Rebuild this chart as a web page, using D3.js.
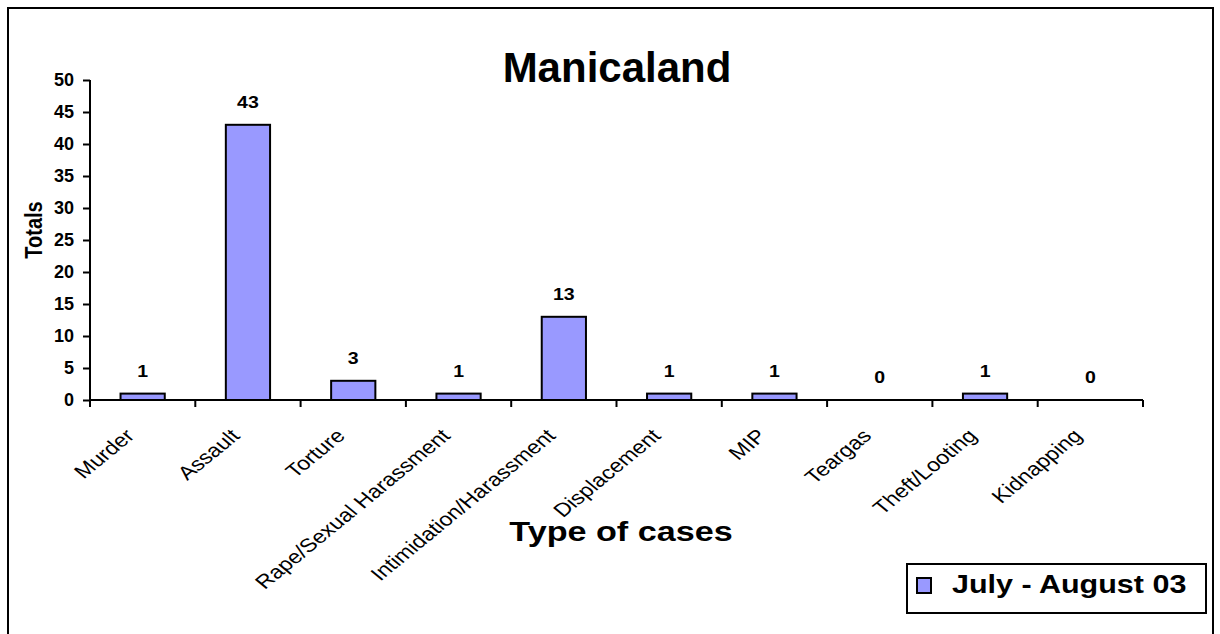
<!DOCTYPE html>
<html><head><meta charset="utf-8">
<script src="https://cdn.jsdelivr.net/npm/d3@7"></script>
<style>body{margin:0;background:#fff;} text{font-family:"Liberation Sans",Arial,sans-serif;}</style>
</head><body>
<svg id="c" width="1220" height="634"></svg>
<script>
const categories = ["Murder","Assault","Torture","Rape/Sexual Harassment","Intimidation/Harassment","Displacement","MIP","Teargas","Theft/Looting","Kidnapping"];
const values = [1,43,3,1,13,1,1,0,1,0];
const yTicks = [0,5,10,15,20,25,30,35,40,45,50];
const seriesName = "July - August 03";
const title = "Manicaland";
const xTitle = "Type of cases";
const yTitle = "Totals";

const SX = 1.22; // horizontal stretch seen in the reference text
const svg = d3.select("#c");
svg.append("rect").attr("x",8).attr("y",8).attr("width",1205).attr("height",640)
  .attr("fill","none").attr("stroke","#000").attr("stroke-width",2);

const pL=90,pR=1143,pT=80,pB=400;
const x = d3.scaleBand().domain(categories).range([pL,pR]).paddingInner(0.58).paddingOuter(0.29);
const y = d3.scaleLinear().domain([0,50]).range([pB,pT]);

svg.append("text").attr("x",617).attr("y",82).attr("text-anchor","middle")
  .attr("font-size",42).attr("font-weight","bold").text(title);

// bars
svg.selectAll("rect.bar").data(values).join("rect").attr("class","bar")
  .attr("x",(d,i)=>x(categories[i])).attr("width",x.bandwidth())
  .attr("y",d=>y(d)).attr("height",d=>pB-y(d))
  .attr("fill","#9999ff").attr("stroke","#000").attr("stroke-width",2);

// value labels
svg.selectAll("text.val").data(values).join("text").attr("class","val")
  .attr("transform",(d,i)=>`translate(${x(categories[i])+x.bandwidth()/2},${y(d)-17}) scale(${SX},1)`)
  .attr("text-anchor","middle").attr("font-size",16).attr("font-weight","bold").text(d=>d);

// y axis
const ya = svg.append("g").attr("transform",`translate(${pL},0)`)
  .call(d3.axisLeft(y).tickValues(yTicks).tickSize(7).tickPadding(9));
ya.select(".domain").attr("stroke","#000").attr("stroke-width",2).attr("d",`M0,${pT}V${pB}`);
ya.selectAll(".tick line").attr("stroke","#000").attr("stroke-width",2);
ya.selectAll(".tick text").attr("font-size",18).attr("font-weight","bold").attr("fill","#000")
  .attr("font-family","Liberation Sans, Arial, sans-serif");

// x axis
const bounds = d3.range(categories.length+1).map(i=>pL+i*(pR-pL)/categories.length);
const xg = svg.append("g");
xg.append("line").attr("x1",pL).attr("x2",pR).attr("y1",pB).attr("y2",pB)
  .attr("stroke","#000").attr("stroke-width",2);
xg.selectAll("line.t").data(bounds).join("line").attr("class","t")
  .attr("x1",d=>d).attr("x2",d=>d).attr("y1",pB).attr("y2",pB+7)
  .attr("stroke","#000").attr("stroke-width",2);
xg.selectAll("text").data(categories).join("text")
  .attr("transform",d=>`translate(${x(d)+x.bandwidth()/2-7},${pB+37}) scale(${SX},1) rotate(-45)`)
  .attr("text-anchor","end").attr("font-size",19).attr("fill","#000").text(d=>d);

svg.append("text").attr("transform",`translate(621,541) scale(${SX},1)`).attr("text-anchor","middle")
  .attr("font-size",28).attr("font-weight","bold").text(xTitle);
svg.append("text").attr("transform",`translate(42,230) scale(${SX},1) rotate(-90)`).attr("text-anchor","middle")
  .attr("font-size",20).attr("font-weight","bold").text(yTitle);

// legend
const lg = svg.append("g");
lg.append("rect").attr("x",907).attr("y",564).attr("width",299).attr("height",49)
  .attr("fill","#fff").attr("stroke","#000").attr("stroke-width",2);
lg.append("rect").attr("x",917).attr("y",578).attr("width",14).attr("height",15)
  .attr("fill","#9999ff").attr("stroke","#000").attr("stroke-width",2);
lg.append("text").attr("transform",`translate(952,593) scale(${SX},1)`).attr("font-size",25).attr("font-weight","bold").text(seriesName);
</script>
</body></html>
